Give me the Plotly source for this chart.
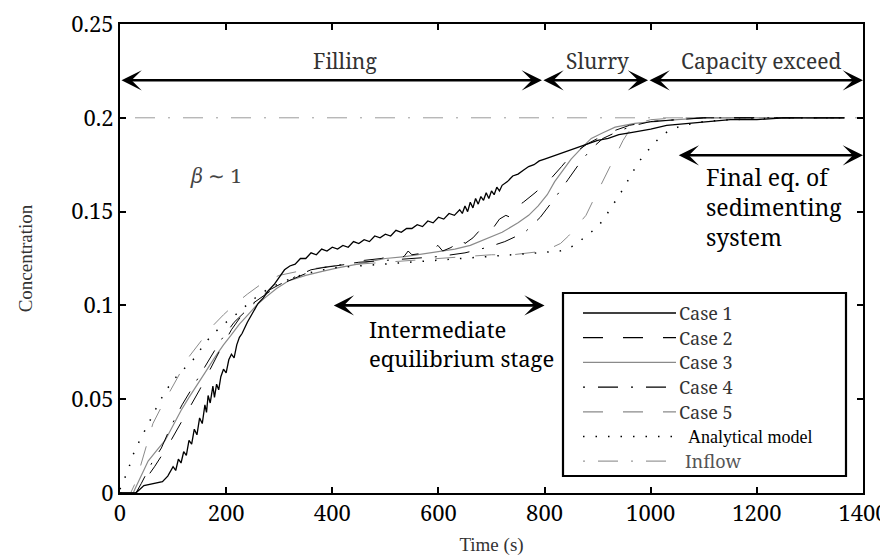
import plotly.graph_objects as go

# ---------------- data ----------------
t_case1 = [0, 30, 45, 60, 80, 90, 100, 105, 110, 115, 120, 125, 130, 135, 140, 145, 150, 155, 160, 163, 166, 170,
           175, 178, 182, 186, 190, 195, 200, 205, 210, 215, 220, 225, 230, 240, 250, 260, 270, 280, 290, 300, 310,
           320, 330, 340, 350, 360, 370, 380, 390, 400, 410, 420, 430, 440, 450, 460, 470, 480, 490, 500, 510, 520,
           530, 540, 550, 560, 570, 580, 590, 600, 610, 620, 630, 640, 645, 650, 655, 660, 665, 670, 675, 680, 685,
           690, 695, 700, 705, 710, 715, 720, 730, 740, 750, 760, 770, 780, 790, 800, 820, 840, 860, 880, 900, 920,
           940, 960, 980, 1000, 1030, 1070, 1100, 1150, 1200, 1250, 1300, 1365]
c_case1 = [0.0, 0.0, 0.004, 0.005, 0.006, 0.009, 0.014, 0.012, 0.018, 0.016, 0.022, 0.020, 0.028, 0.026, 0.034, 0.031,
           0.040, 0.037, 0.047, 0.043, 0.052, 0.048, 0.057, 0.051, 0.058, 0.055, 0.062, 0.066, 0.064, 0.071, 0.074,
           0.072, 0.079, 0.083, 0.085, 0.091, 0.096, 0.101, 0.104, 0.108, 0.111, 0.115, 0.119, 0.121, 0.122, 0.125,
           0.125, 0.128, 0.127, 0.130, 0.129, 0.131, 0.130, 0.132, 0.131, 0.134, 0.133, 0.135, 0.134, 0.137, 0.136,
           0.138, 0.137, 0.140, 0.139, 0.141, 0.141, 0.143, 0.142, 0.145, 0.144, 0.147, 0.146, 0.149, 0.148, 0.151,
           0.149, 0.153, 0.150, 0.155, 0.152, 0.157, 0.154, 0.158, 0.156, 0.160, 0.157, 0.161, 0.159, 0.163, 0.161,
           0.164, 0.166, 0.169, 0.170, 0.172, 0.174, 0.175, 0.177, 0.178, 0.180, 0.182, 0.184, 0.186, 0.188, 0.189,
           0.191, 0.192, 0.193, 0.194, 0.196, 0.197, 0.198, 0.199, 0.199, 0.200, 0.200, 0.200]

t_case2 = [0, 30, 45, 65, 90, 110, 130, 150, 170, 190, 210, 230, 250, 270, 290, 317, 350, 379, 430, 460, 492, 520, 535,
           543, 550, 575, 590, 599, 608, 625, 640, 650, 665, 681, 690, 705, 715, 727, 735, 744, 760, 782, 794, 810,
           832, 844, 860, 880, 900, 930, 960, 1000, 1050, 1100, 1365]
c_case2 = [0.0, 0.0, 0.006, 0.014, 0.025, 0.035, 0.045, 0.055, 0.066, 0.077, 0.087, 0.095, 0.101, 0.105, 0.109, 0.113,
           0.117, 0.120, 0.122, 0.124, 0.125, 0.127, 0.126, 0.129, 0.127, 0.128, 0.130, 0.132, 0.129, 0.131, 0.137,
           0.133, 0.136, 0.141, 0.139, 0.142, 0.146, 0.148, 0.147, 0.152, 0.155, 0.160, 0.163, 0.167, 0.174, 0.178,
           0.182, 0.186, 0.189, 0.193, 0.196, 0.198, 0.199, 0.200, 0.200]

t_case3 = [0, 25, 28, 40, 53, 70, 85, 100, 115, 130, 147, 160, 178, 195, 209, 225, 241, 257, 273, 295, 317, 350, 379,
           410, 448, 500, 537, 580, 631, 660, 693, 720, 750, 770, 788, 805, 819, 835, 850, 870, 888, 910, 933, 970,
           1008, 1050, 1100, 1365]
c_case3 = [0.0, 0.0, 0.002, 0.009, 0.017, 0.023, 0.028, 0.036, 0.044, 0.051, 0.058, 0.064, 0.072, 0.079, 0.084, 0.090,
           0.095, 0.100, 0.104, 0.109, 0.113, 0.116, 0.118, 0.120, 0.122, 0.125, 0.126, 0.128, 0.130, 0.132, 0.136,
           0.139, 0.144, 0.148, 0.153, 0.159, 0.166, 0.172, 0.178, 0.184, 0.189, 0.192, 0.195, 0.197, 0.198, 0.199,
           0.200, 0.200]

t_case4 = [0, 30, 40, 60, 78, 95, 117, 144, 165, 189, 215, 248, 280, 320, 360, 400, 450, 500, 550, 600, 650, 693, 725,
           763, 792, 819, 844, 869, 890, 910, 940, 970, 1000, 1050, 1100, 1365]
c_case4 = [0.0, 0.0, 0.005, 0.016, 0.024, 0.035, 0.047, 0.060, 0.070, 0.081, 0.091, 0.100, 0.108, 0.114, 0.119, 0.121,
           0.123, 0.124, 0.125, 0.126, 0.128, 0.131, 0.134, 0.139, 0.147, 0.157, 0.167, 0.177, 0.184, 0.189, 0.193,
           0.196, 0.198, 0.199, 0.200, 0.200]

t_case5 = [0, 20, 30, 45, 62, 80, 100, 115, 131, 150, 171, 195, 218, 240, 269, 300, 350, 400, 450, 500, 550, 600, 650,
           700, 740, 770, 800, 815, 830, 845, 857, 868, 878, 890, 897, 905, 913, 921, 929, 940, 948, 957, 966, 976,
           1000, 1050, 1365]
c_case5 = [0.0, 0.0, 0.006, 0.020, 0.037, 0.047, 0.057, 0.065, 0.073, 0.080, 0.088, 0.095, 0.101, 0.106, 0.112, 0.116,
           0.119, 0.121, 0.122, 0.123, 0.124, 0.125, 0.126, 0.127, 0.127, 0.128, 0.129, 0.131, 0.133, 0.137, 0.141,
           0.145, 0.148, 0.155, 0.159, 0.164, 0.168, 0.173, 0.178, 0.184, 0.188, 0.192, 0.195, 0.197, 0.199, 0.200,
           0.200]

t_model = [0, 15, 24, 37, 50, 62, 75, 90, 103, 120, 141, 160, 180, 200, 222, 250, 280, 310, 350, 400, 450, 500, 550,
           600, 650, 700, 750, 788, 829, 857, 878, 901, 916, 932, 948, 962, 976, 993, 1012, 1033, 1060, 1100, 1150,
           1250, 1365]
c_model = [0.002, 0.012, 0.020, 0.028, 0.035, 0.042, 0.049, 0.056, 0.061, 0.066, 0.072, 0.080, 0.086, 0.091, 0.096,
           0.103, 0.109, 0.113, 0.117, 0.120, 0.121, 0.122, 0.123, 0.124, 0.125, 0.126, 0.127, 0.128, 0.129, 0.132,
           0.137, 0.142, 0.148, 0.155, 0.162, 0.169, 0.176, 0.182, 0.188, 0.193, 0.196, 0.198, 0.199, 0.200, 0.200]

t_inflow = [0, 1400]
c_inflow = [0.2, 0.2]

series_names = ["Case 1", "Case 2", "Case 3", "Case 4", "Case 5", "Analytical model", "Inflow"]
x_ticks = [0, 200, 400, 600, 800, 1000, 1200, 1400]
y_ticks = [0, 0.05, 0.1, 0.15, 0.2, 0.25]
y_tick_labels = ["0", "0.05", "0.1", "0.15", "0.2", "0.25"]

# phase arrows (time boundaries, s) and labels
phase_bounds = [0, 795, 995, 1400]
phase_labels = ["Filling", "Slurry", "Capacity exceed"]
phase_label_x = [424, 899, 1208]

# ---------------- styling ----------------
SERIF_S = "Liberation Serif"   # small serif text
SERIF_L = "Noto Serif"         # larger serif text
GRAY = "#8a8a8a"
TXT = "#333333"

styles = [
    dict(color="black", width=1.3, dash="solid"),
    dict(color="black", width=1.0, dash="20px,20px"),
    dict(color=GRAY, width=1.2, dash="solid"),
    dict(color="black", width=1.0, dash="2px,13px,20px,13px"),
    dict(color=GRAY, width=1.0, dash="20px,20px"),
    dict(color="black", width=1.5, dash="1.5px,11px"),
    dict(color="#9a9a9a", width=1.0, dash="2px,13px,20px,13px"),
]
all_t = [t_case1, t_case2, t_case3, t_case4, t_case5, t_model, t_inflow]
all_c = [c_case1, c_case2, c_case3, c_case4, c_case5, c_model, c_inflow]

fig = go.Figure()
order = [6, 4, 2, 5, 3, 1, 0]
for i in order:
    fig.add_trace(go.Scatter(x=all_t[i], y=all_c[i], mode="lines", name=series_names[i],
                             line=styles[i], showlegend=False, hoverinfo="skip"))

W, H = 888, 558
ML, MR, MT, MB = 112, 33, 16, 73

fig.update_layout(
    width=W, height=H,
    margin=dict(l=ML, r=MR, t=MT, b=MB, pad=0),
    paper_bgcolor="white", plot_bgcolor="white",
    font=dict(family=SERIF_S, color="black"),
    showlegend=False,
)
axis_common = dict(showline=True, linewidth=2, linecolor="black", mirror="ticks", ticks="inside",
                   ticklen=6, tickwidth=1.5, tickcolor="black", showgrid=False, zeroline=False,
                   automargin=False, ticklabeloverflow="allow",
                   tickfont=dict(family=SERIF_L, size=22, color="black"))
fig.update_xaxes(range=[0, 1400], tickvals=x_ticks, ticktext=[str(v) for v in x_ticks],
                 title=dict(text="Time (s)", font=dict(family=SERIF_S, size=19, color=TXT), standoff=11),
                 **axis_common)
fig.update_yaxes(range=[0, 0.25], tickvals=y_ticks, ticktext=y_tick_labels,
                 title=dict(text="Concentration", font=dict(family=SERIF_S, size=19, color=TXT), standoff=34),
                 **axis_common)

annotations = []
shapes = []

def dbl_arrow(x0, x1, y):
    annotations.append(dict(x=x1, y=y, ax=x0, ay=y, xref="x", yref="y", axref="x", ayref="y",
                            text="", showarrow=True, arrowside="end+start", arrowhead=3,
                            arrowsize=1.3, arrowwidth=2.6, arrowcolor="black"))

for k in range(3):
    dbl_arrow(phase_bounds[k], phase_bounds[k + 1], 0.22)
    annotations.append(dict(x=phase_label_x[k], y=0.22, xref="x", yref="y", text=phase_labels[k],
                            showarrow=False, yanchor="bottom", yshift=3,
                            font=dict(family=SERIF_L, size=21, color=TXT)))

dbl_arrow(1050, 1400, 0.18)
annotations.append(dict(x=1100, y=0.18, xref="x", yref="y", text="Final eq. of<br>sedimenting<br>system",
                        showarrow=False, xanchor="left", yanchor="top", yshift=-4, align="left",
                        font=dict(family=SERIF_L, size=23, color="black")))

dbl_arrow(400, 800, 0.1)
annotations.append(dict(x=465, y=0.1, xref="x", yref="y", text="Intermediate<br>equilibrium stage",
                        showarrow=False, xanchor="left", yanchor="top", yshift=-7, align="left",
                        font=dict(family=SERIF_L, size=22, color="black")))

annotations.append(dict(x=181, y=0.169, xref="x", yref="y", text="<i>β</i> ∼ 1", showarrow=False,
                        font=dict(family=SERIF_L, size=20, color="#444444")))

# ---------------- manual legend ----------------
PW, PH = W - ML - MR, H - MT - MB
def px_x(p):
    return (p - ML) / PW
def px_y(p):
    return (H - MB - p) / PH

box_l, box_t, box_r, box_b = 555, 285, 838, 468
shapes.append(dict(type="rect", xref="paper", yref="paper", x0=px_x(box_l), x1=px_x(box_r),
                   y0=px_y(box_b), y1=px_y(box_t), line=dict(color="black", width=2.2),
                   fillcolor="white", layer="above"))
row0, row_gap = 305, 24.7
samp_l, samp_r = 575, 668
for i, name in enumerate(series_names):
    yy = row0 + i * row_gap
    shapes.append(dict(type="line", xref="paper", yref="paper", x0=px_x(samp_l), x1=px_x(samp_r),
                       y0=px_y(yy), y1=px_y(yy), layer="above",
                       line=dict(color=styles[i]["color"], width=1.3 if i != 5 else 1.6, dash=styles[i]["dash"])))
    if name == "Analytical model":
        f = dict(family=SERIF_S, size=18, color="black")
        tx = 678
    elif name == "Inflow":
        f = dict(family=SERIF_L, size=18, color="#555555")
        tx = 675
    else:
        f = dict(family=SERIF_L, size=18, color=TXT)
        tx = 669
    annotations.append(dict(x=px_x(tx), y=px_y(yy), xref="paper", yref="paper", text=name,
                            showarrow=False, xanchor="left", yanchor="middle", font=f))

fig.update_layout(annotations=annotations, shapes=shapes)
fig.write_html("out.html")
